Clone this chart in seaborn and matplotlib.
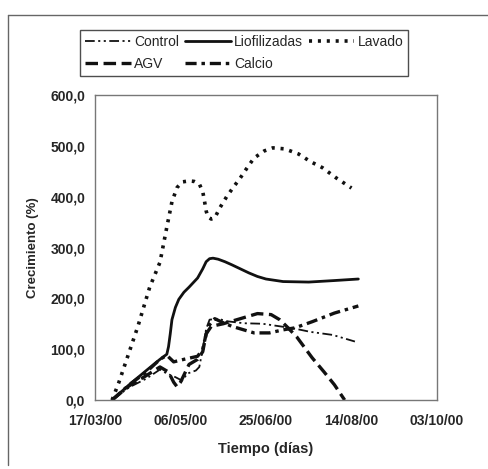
"""Crecimiento (%) vs tiempo, five treatments."""
import matplotlib
matplotlib.use("Agg")
import matplotlib.pyplot as plt
import matplotlib.dates as mdates
import numpy as np
import pandas as pd
import seaborn as sns
from matplotlib.lines import Line2D

START = pd.Timestamp("2000-03-17")

# days after 17/03/00, growth in %
control_days = [10, 20, 30, 38, 42, 47, 51, 54, 59, 61, 63, 65, 67, 72, 77, 87, 98, 116, 126, 139, 152]
control_vals = [0, 25, 42, 60, 52, 45, 38, 52, 58, 65, 100, 140, 158, 160, 155, 151, 150, 141, 134, 128, 115]

liof_days = [10, 20, 30, 38, 42, 43, 44, 45, 47, 49, 52, 55, 60, 63, 65, 67, 69, 72, 76, 80,
             85, 90, 95, 100, 110, 125, 140, 154]
liof_vals = [0, 30, 58, 80, 90, 105, 130, 158, 182, 198, 212, 222, 240, 258, 272, 278, 279, 277, 272, 266,
             258, 250, 243, 238, 233, 232, 235, 238]

lavado_days = [10, 14, 25, 32, 38, 42, 45, 48, 51, 55, 58, 61, 63, 64, 65, 66, 68, 70, 73, 77,
               81, 85, 89, 93, 99, 104, 111, 119, 126, 133, 141, 150]
lavado_vals = [0, 35, 144, 222, 271, 340, 390, 418, 429, 431, 430, 425, 410, 392, 372, 360, 356, 358, 378, 400,
               419, 437, 457, 476, 490, 496, 494, 484, 469, 457, 437, 417]

agv_days = [10, 20, 30, 38, 43, 46, 48, 50, 55, 60, 63, 65, 68, 75, 85, 95, 103, 108, 112, 118,
            127, 134, 140, 146]
agv_vals = [0, 28, 48, 65, 55, 35, 26, 35, 70, 80, 95, 130, 145, 150, 160, 170, 168, 158, 145, 124,
            83, 55, 30, 0]

calcio_days = [10, 20, 30, 38, 42, 46, 52, 56, 60, 63, 65, 67, 70, 75, 80, 87, 93, 102, 110, 117,
               127, 140, 154]
calcio_vals = [0, 30, 55, 80, 88, 75, 80, 83, 86, 100, 130, 148, 160, 152, 145, 138, 132, 132, 138, 142,
               154, 171, 185]

series = {
    "Control": (control_days, control_vals),
    "Liofilizadas": (liof_days, liof_vals),
    "Lavado": (lavado_days, lavado_vals),
    "AGV": (agv_days, agv_vals),
    "Calcio": (calcio_days, calcio_vals),
}

STYLE = {
    "Control":      dict(lw=1.3, ls=(0, (7, 2.5, 1.5, 2.5, 1.5, 2.5))),
    "Liofilizadas": dict(lw=2.0, ls="-"),
    "Lavado":       dict(lw=2.6, ls=(0, (2.2, 4.2))),
    "AGV":          dict(lw=2.4, ls=(0, (9, 4))),
    "Calcio":       dict(lw=2.4, ls=(0, (8, 3.5, 2.5, 3.5))),
}

sns.set_style("white")
plt.rcParams["font.family"] = ["Liberation Sans", "DejaVu Sans"]
plt.rcParams["lines.scale_dashes"] = False

fig = plt.figure(figsize=(4.88, 4.69), dpi=100)
ax = fig.add_axes([95 / 488, 69 / 469, 342 / 488, 305 / 469])

for name, (days, vals) in series.items():
    df = pd.DataFrame({"fecha": START + pd.to_timedelta(days, unit="D"), "valor": vals})
    sns.lineplot(data=df, x="fecha", y="valor", ax=ax, color="#111111",
                 linewidth=STYLE[name]["lw"], linestyle=STYLE[name]["ls"],
                 dash_capstyle="butt", solid_capstyle="round", solid_joinstyle="round",
                 label=name, legend=False)

ticks = [START + pd.Timedelta(days=d) for d in (0, 50, 100, 150, 200)]
ax.set_xlim(ticks[0], ticks[-1])
ax.set_xticks(ticks)
ax.xaxis.set_major_formatter(mdates.DateFormatter("%d/%m/%y"))
ax.set_ylim(0, 600)
ax.set_yticks(np.arange(0, 601, 100))
ax.set_yticklabels([f"{v:.1f}".replace(".", ",") for v in np.arange(0, 601, 100)])

for sp in ax.spines.values():
    sp.set_color("#777777")
    sp.set_linewidth(1.0)
ax.tick_params(axis="both", direction="out", length=4, width=1, color="#555555",
               labelsize=10, pad=3)
for lab in ax.get_xticklabels() + ax.get_yticklabels():
    lab.set_fontweight("bold")
ax.tick_params(axis="x", pad=6)

ax.set_xlabel("Tiempo (días)", fontsize=10.5, fontweight="bold", labelpad=10)
ax.set_ylabel("Crecimiento (%)", fontsize=9.5, fontweight="bold", labelpad=8)

order = ["Control", "AGV", "Liofilizadas", "Calcio", "Lavado"]
handles = [Line2D([], [], color="#111111", linewidth=STYLE[n]["lw"],
                  linestyle=STYLE[n]["ls"], dash_capstyle="butt") for n in order]
fig.legend(handles, order, ncol=3, loc="upper left",
           bbox_to_anchor=(73 / 488, 1 - 23 / 469), frameon=True, fancybox=False,
           edgecolor="#222222", fontsize=10, handlelength=3.3, handletextpad=0.25,
           columnspacing=0.4, borderpad=0.35, labelspacing=0.6)

# outer frame of the scanned figure
frame = dict(color="#666666", linewidth=1.0, transform=fig.transFigure)
fig.add_artist(Line2D([8 / 488, 8 / 488], [1 - 15 / 469, 1 - 465 / 469], **frame))
fig.add_artist(Line2D([8 / 488, 1], [1 - 15 / 469, 1 - 15 / 469], **frame))

fig.savefig("out.png", dpi=100)
